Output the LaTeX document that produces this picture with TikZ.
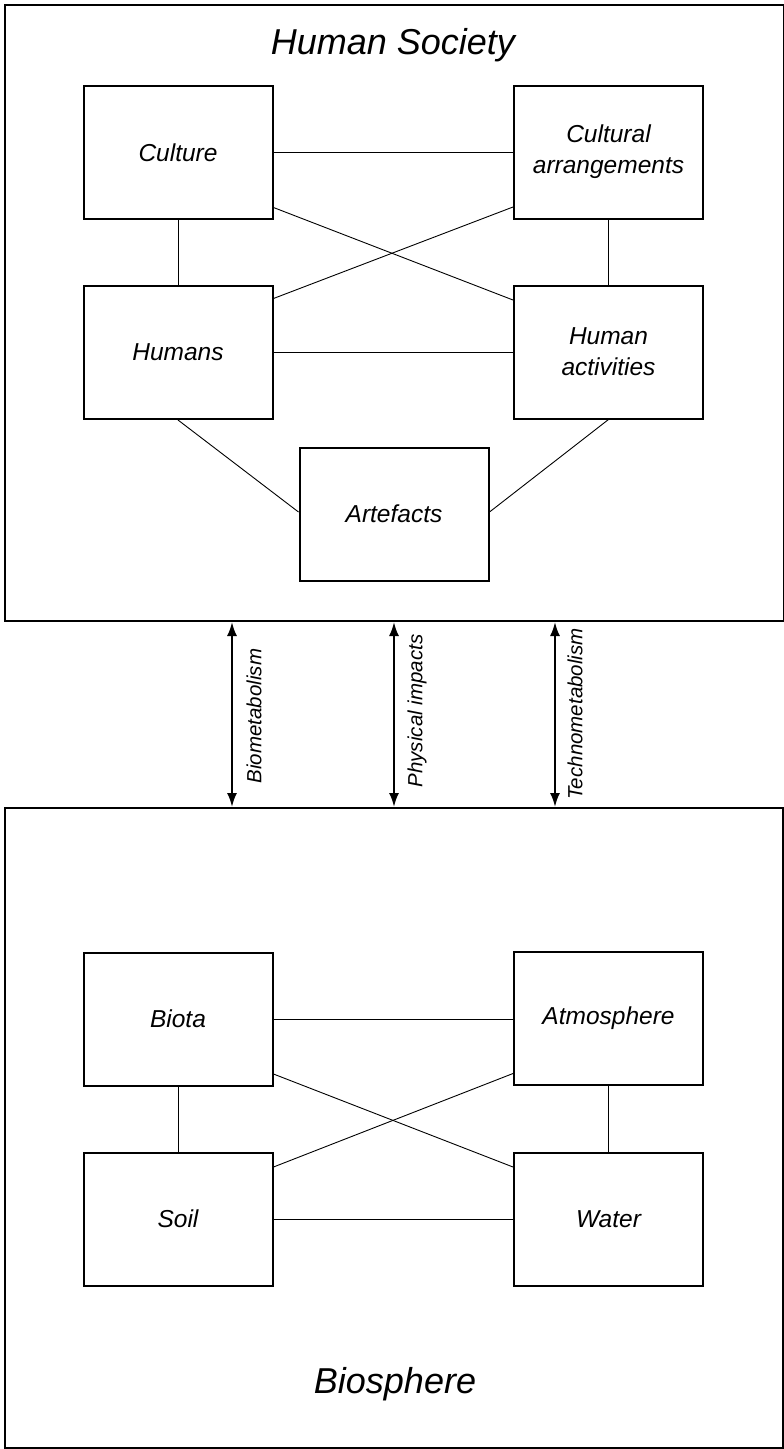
\documentclass[tikz,border=0pt]{standalone}
\usepackage{fontspec}
\setmainfont{Liberation Sans}
\usetikzlibrary{arrows.meta}
\begin{document}
\begin{tikzpicture}[x=1pt,y=-1pt,
  region/.style={draw, line width=2pt, inner sep=0pt},
  box/.style={draw, line width=2pt, minimum width=189pt, minimum height=133pt,
    inner sep=0pt, align=center, font=\fontsize{24.5}{31}\selectfont\itshape},
  title/.style={font=\fontsize{36}{40}\selectfont\itshape, inner sep=0pt},
  link/.style={line width=0.9pt},
  flow/.style={line width=2pt, {Latex[length=14pt,width=10pt]}-{Latex[length=14pt,width=10pt]}},
  lbl/.style={font=\fontsize{20.5}{24}\selectfont\itshape, inner sep=0pt, rotate=90}]
\useasboundingbox (0,0) rectangle (784,1449);
% regions
\node[region, minimum width=779pt, minimum height=616pt] (society) at (394,313) {};
\node[region, minimum width=778pt, minimum height=640pt] (biosphere) at (394,1128) {};
\node[title] (tsoc) at (393,45) {Human Society};
\node[title] (tbio) at (395,1384) {Biosphere};
% society boxes
\node[box] (culture) at (178,152.5) {Culture};
\node[box] (carr) at (608.5,152) {Cultural\\arrangements};
\node[box] (humans) at (178,352.5) {Humans};
\node[box] (hact) at (608.5,352) {Human\\activities};
\node[box] (artef) at (394,514) {Artefacts};
% biosphere boxes
\node[box] (biota) at (178,1019) {Biota};
\node[box] (atmos) at (608.5,1018.5) {Atmosphere};
\node[box] (soil) at (178,1219) {Soil};
\node[box] (water) at (608.5,1219) {Water};
% society links
\draw[link] (culture.east) -- (carr.west |- culture.east);
\draw[link] (culture.south) -- (humans.north);
\draw[link] (carr.south) -- (hact.north);
\draw[link] (humans.east) -- (hact.west |- humans.east);
\draw[link] ([yshift=-55pt]culture.east) -- ([yshift=52pt]hact.west);
\draw[link] ([yshift=54pt]humans.east) -- ([yshift=-55pt]carr.west);
\draw[link] (humans.south) -- ([yshift=2pt]artef.west);
\draw[link] (hact.south) -- ([yshift=2pt]artef.east);
% biosphere links
\draw[link] (biota.east) -- (atmos.west |- biota.east);
\draw[link] (biota.south) -- (soil.north);
\draw[link] (atmos.south) -- (water.north);
\draw[link] (soil.east) -- (water.west |- soil.east);
\draw[link] ([yshift=-55pt]biota.east) -- ([yshift=52pt]water.west);
\draw[link] ([yshift=52pt]soil.east) -- ([yshift=-55pt]atmos.west);
% exchange arrows
\coordinate (a1) at (232,0);
\coordinate (a2) at (394,0);
\coordinate (a3) at (555,0);
\draw[flow] (a1 |- society.south) -- (a1 |- biosphere.north);
\draw[flow] (a2 |- society.south) -- (a2 |- biosphere.north);
\draw[flow] (a3 |- society.south) -- (a3 |- biosphere.north);
\node[lbl] (l1) at (254,716) {Biometabolism};
\node[lbl] (l2) at (417,711) {Physical impacts};
\node[lbl] (l3) at (575,714) {Technometabolism};
\end{tikzpicture}
\end{document}
